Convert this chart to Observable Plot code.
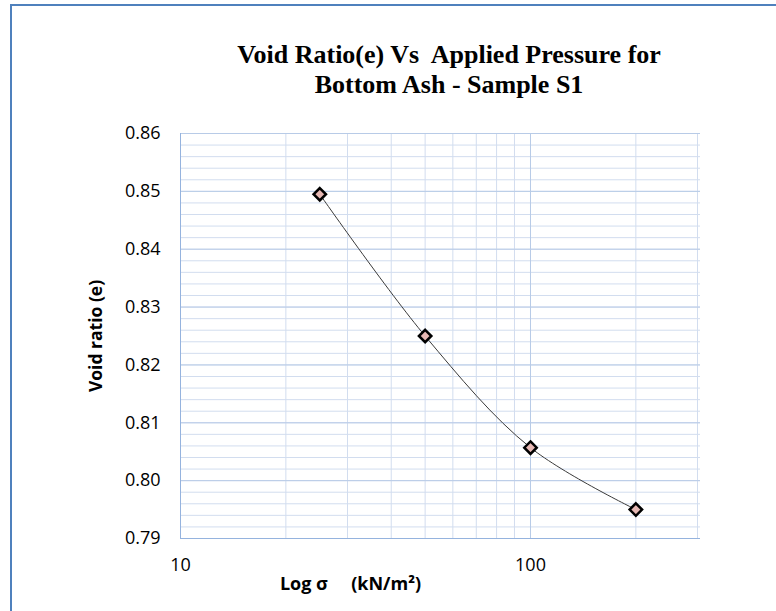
<!DOCTYPE html>
<html>
<head>
<meta charset="utf-8">
<script src="https://cdn.jsdelivr.net/npm/d3@7"></script>
<script src="https://cdn.jsdelivr.net/npm/@observablehq/plot@0.6"></script>
<style>
  html, body { margin: 0; padding: 0; background: #fff; }
  #wrap { position: relative; width: 776px; height: 611px; overflow: hidden; }
  #frame { position: absolute; left: 10px; top: 4px; width: 780px; height: 620px;
           border-top: 2px solid #4f81bd; border-left: 2px solid #4f81bd; box-sizing: border-box; }
  #title { position: absolute; left: 149px; width: 600px; top: 40px; text-align: center;
           font-family: "Liberation Serif", "Times New Roman", serif; font-weight: bold;
           font-size: 26px; line-height: 30px; color: #000; white-space: pre; }
  #chart { position: absolute; left: 0; top: 0; }
</style>
</head>
<body>
<div id="wrap">
  <div id="frame"></div>
  <div id="chart"></div>
  <div id="title">Void Ratio(e) Vs  Applied Pressure for
Bottom Ash - Sample S1</div>
</div>
<script>
// Data
const pressure = [25, 50, 100, 200];          // σ, kN/m²
const voidRatio = [0.8495, 0.825, 0.8057, 0.795];

// Axis ticks
const yTicks = [0.79, 0.80, 0.81, 0.82, 0.83, 0.84, 0.85, 0.86];
const xTicks = [10, 100];
const yMinorGrid = d3.range(0, 36).map(i => +(0.79 + i * 0.002).toFixed(3));
const xMinorGrid = [20, 30, 40, 50, 60, 70, 80, 90, 200, 300];

const data = pressure.map((p, i) => ({p, e: voidRatio[i]}));

const chart = Plot.plot({
  width: 776,
  height: 611,
  marginLeft: 180,
  marginRight: 76,
  marginTop: 133,
  marginBottom: 73,
  style: { fontFamily: "'Open Sans', sans-serif", fontSize: "18px", color: "#000", background: "transparent" },
  x: { type: "log", domain: [10, 306] },
  y: { domain: [0.79, 0.86] },
  marks: [
    Plot.ruleY(yMinorGrid, { stroke: "#d2ddef", strokeWidth: 1 }),
    Plot.ruleX(xMinorGrid, { stroke: "#d2ddef", strokeWidth: 1 }),
    Plot.ruleY(yTicks, { stroke: "#b8cbe7", strokeWidth: 1 }),
    Plot.ruleX([100], { stroke: "#b8cbe7", strokeWidth: 1 }),
    Plot.ruleX([10], { stroke: "#95b3de", strokeWidth: 1 }),
    Plot.ruleY([0.79], { stroke: "#95b3de", strokeWidth: 1 }),
    Plot.axisY(yTicks, { tickSize: 0, tickPadding: 20, tickFormat: d3.format(".2f"), label: null, fill: "#000", fontSize: 18 }),
    Plot.axisX(xTicks, { tickSize: 0, tickPadding: 20, tickFormat: d => String(d), label: null, fill: "#000", fontSize: 18 }),
    Plot.text(["Void ratio (e)"], { frameAnchor: "left", dx: -84, dy: 0, rotate: -90, text: d => d,
      fontWeight: "bold", fontSize: 17.5, textAnchor: "middle" }),
    Plot.text(["Log σ\u00a0\u00a0\u00a0\u00a0\u00a0(kN/m²)"], { frameAnchor: "bottom", dx: -90, dy: 51, text: d => d,
      fontWeight: "bold", fontSize: 18, textAnchor: "middle" }),
    Plot.line(data, { x: "p", y: "e", curve: "catmull-rom", stroke: "#3a3a3a", strokeWidth: 1 }),
    Plot.dot(data, { x: "p", y: "e", symbol: "diamond2", r: 5.6, stroke: "#000", strokeWidth: 2.5, fill: "#e6b8b4" })
  ]
});
document.getElementById("chart").appendChild(chart);
</script>
</body>
</html>
